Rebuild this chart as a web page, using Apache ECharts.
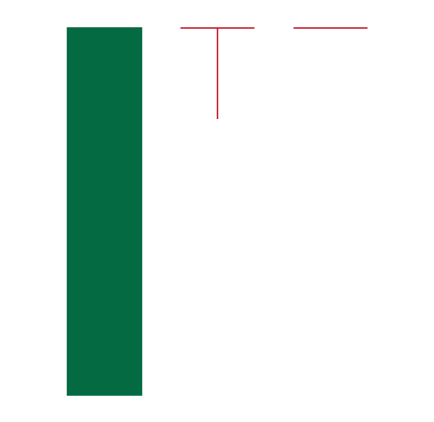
<!DOCTYPE html>
<html><head><meta charset="utf-8">
<script src="https://cdn.jsdelivr.net/npm/echarts@6/dist/echarts.min.js"></script>
<style>html,body{margin:0;padding:0;background:#fff}#c{width:434px;height:422px}</style>
</head><body><div id="c"></div>
<script>
const categories = ['A', 'B', 'C'];
const opens  = [100, 100, 100];
const closes = [0, 100, 100];
const lows   = [0, 75.2, 100];
const highs  = [100, 100, 100];
const candleData = categories.map((c, i) => [opens[i], closes[i], lows[i], highs[i]]);
const chart = echarts.init(document.getElementById('c'), null, {renderer: 'canvas'});
chart.setOption({
  animation: false,
  backgroundColor: '#ffffff',
  grid: {left: 48, right: 47, top: 28, bottom: 27},
  xAxis: {type: 'category', data: categories, show: false},
  yAxis: {type: 'value', min: 0, max: 100, show: false},
  series: [{
    type: 'candlestick',
    data: candleData,
    barWidth: 75,
    itemStyle: {
      color: '#c4182b', color0: '#046a42',
      borderColor: '#c4182b', borderColor0: '#046a42',
      borderWidth: 1.5
    }
  }]
});
</script></body></html>
